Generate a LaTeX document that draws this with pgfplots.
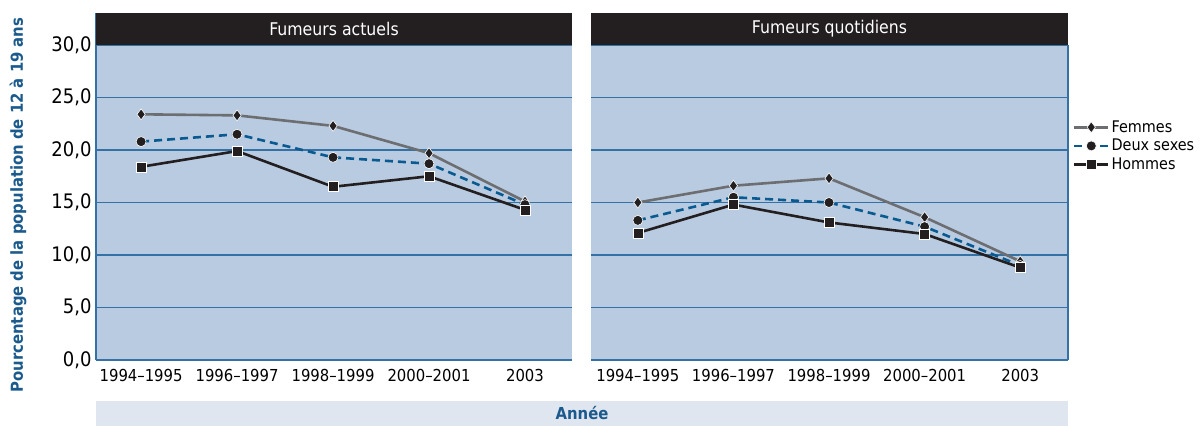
\documentclass[border=0pt]{standalone}
\usepackage{pgfplots}
\pgfplotsset{compat=1.18}
\usepackage{fontspec}
\setmainfont{DejaVu Sans Condensed}
\definecolor{bgc}{HTML}{B9CBE0}
\definecolor{gridc}{HTML}{3471A5}
\definecolor{fem}{HTML}{6D6E71}
\definecolor{deux}{HTML}{0A5A92}
\definecolor{hom}{HTML}{231F20}
\definecolor{labc}{HTML}{1B5A8C}
\definecolor{band}{HTML}{E0E6EF}
\pgfplotsset{
  panel/.style={
    width=476bp, height=347bp, scale only axis,
    ymin=0, ymax=33.05,
    ytick={0,5,10,15,20,25,30},
    xtick={0,1,2,3,4},
    xticklabels={1994--1995,1996--1997,1998--1999,2000--2001,2003},
    major tick length=0pt,
    ymajorgrids,
    grid style={color=gridc, line width=1.3bp},
    axis line style={color=gridc, line width=1.3bp},
    axis background/.style={fill=bgc},
    /pgf/number format/assume math mode=true,
    /pgf/number format/.cd, fixed, fixed zerofill, precision=1, use comma, 1000 sep={},
    /pgfplots/.cd,
    yticklabel style={font=\fontsize{20bp}{22bp}\selectfont, xshift=-1bp},
    xticklabel style={font=\fontsize{16.5bp}{18bp}\selectfont, yshift=-6bp},
    clip=false,
  },
  femst/.style={color=fem, line width=2.6bp, mark=diamond*, mark size=5.5bp, mark options={fill=hom, draw=white, line width=0.6bp, solid}},
  deuxst/.style={color=deux, line width=2.6bp, dash pattern=on 8bp off 5bp, mark=*, mark size=5bp, mark options={fill=hom, draw=white, line width=0.6bp, solid}},
  homst/.style={color=hom, line width=2.6bp, mark=square*, mark size=5bp, mark options={fill=hom, draw=white, line width=0.6bp, solid}},
}
\begin{document}
\begin{tikzpicture}
\useasboundingbox (0,0) rectangle (1204bp,426bp);
% left panel
\begin{axis}[panel, at={(96bp,66bp)}, anchor=south west, xmin=-0.47, xmax=4.49,
  axis x line*=bottom, axis y line*=left]
\fill[hom] (rel axis cs:0,0.9077) rectangle (rel axis cs:1,1);
\node[white, font=\fontsize{17.5bp}{19bp}\selectfont] at (rel axis cs:0.5,0.9538) {Fumeurs actuels};
\addplot[femst] coordinates {(0,23.4) (1,23.3) (2,22.3) (3,19.7) (4,15.1)};
\addplot[deuxst] coordinates {(0,20.8) (1,21.5) (2,19.3) (3,18.7) (4,14.8)};
\addplot[homst] coordinates {(0,18.4) (1,19.9) (2,16.5) (3,17.5) (4,14.3)};
\end{axis}
% right panel
\begin{axis}[panel, at={(591bp,66bp)}, anchor=south west, width=477bp, xmin=-0.49, xmax=4.5,
  axis x line*=bottom, axis y line*=right, y axis line style={draw=none},
  yticklabels={},
  legend style={at={(rel axis cs:1.01,0.617)}, anchor=west, draw=none, fill=none,
    font=\fontsize{16bp}{18bp}\selectfont, row sep=1.5bp, inner sep=0pt,
    /tikz/every even column/.append style={column sep=5bp}},
  legend cell align=left,
  legend image code/.code={\draw[#1, line width=2.6bp, mark repeat=2, mark phase=2] plot coordinates {(0bp,0bp) (17bp,0bp) (34bp,0bp)};},
]
\draw[gridc, line width=1.3bp] (rel axis cs:1,0) -- (rel axis cs:1,0.9077);
\fill[hom] (rel axis cs:0,0.9077) rectangle (rel axis cs:1,1);
\node[white, font=\fontsize{17.5bp}{19bp}\selectfont] at (rel axis cs:0.5,0.9538) {Fumeurs quotidiens};
\addplot[femst] coordinates {(0,15.0) (1,16.6) (2,17.3) (3,13.6) (4,9.4)};
\addlegendentry{Femmes}
\addplot[deuxst] coordinates {(0,13.3) (1,15.5) (2,15.0) (3,12.7) (4,9.0)};
\addlegendentry{Deux sexes}
\addplot[homst] coordinates {(0,12.1) (1,14.8) (2,13.1) (3,12.0) (4,8.8)};
\addlegendentry{Hommes}
\end{axis}
% y label
\node[rotate=90, color=labc, font=\bfseries\fontsize{16.5bp}{18bp}\selectfont] at (18bp,221bp) {Pourcentage de la population de 12 à 19 ans};
% x label band
\fill[band] (96bp,0bp) rectangle (1068bp,25bp);
\node[color=labc, font=\bfseries\fontsize{16.5bp}{18bp}\selectfont] at (582bp,12.5bp) {Année};
\end{tikzpicture}
\end{document}
